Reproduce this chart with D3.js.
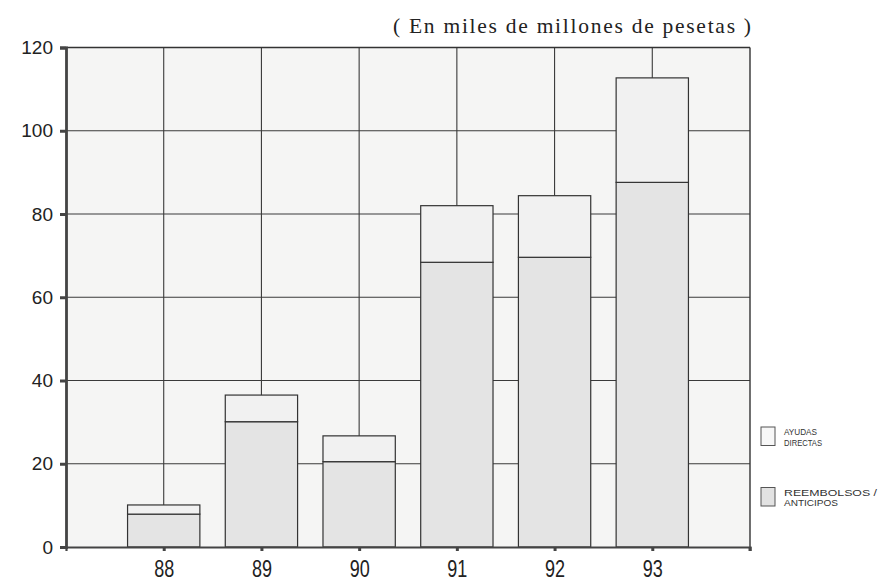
<!DOCTYPE html>
<html>
<head>
<meta charset="utf-8">
<script src="https://cdn.jsdelivr.net/npm/d3@7"></script>
<style>
  html, body { margin: 0; padding: 0; background: #ffffff; }
  svg { display: block; }
</style>
</head>
<body>
<svg id="chart" width="881" height="580"></svg>
<script>
// ---- data ----
const years = ["88", "89", "90", "91", "92", "93"];
const reembolsos = [7.9, 30.1, 20.5, 68.4, 69.6, 87.6];   // REEMBOLSOS / ANTICIPOS (bottom)
const ayudas = [2.2, 6.4, 6.2, 13.6, 14.8, 25.1];         // AYUDAS DIRECTAS (top)
const yTicks = [0, 20, 40, 60, 80, 100, 120];
const seriesKeys = ["reembolsos", "ayudas"];
const legendLabels = [["AYUDAS", "DIRECTAS"], ["REEMBOLSOS /", "ANTICIPOS"]];
const unitsTitle = "( En miles de millones de pesetas )";

(function () {
// ---- layout ----
const pLeft = 66, pRight = 750, pTop = 47.5, pBottom = 547;
const svg = d3.select("#chart");

const x = d3.scalePoint().domain(years).range([pLeft, pRight]).padding(1);
const y = d3.scaleLinear().domain([0, 120]).range([pBottom, pTop]);
const barW = x.step() * 0.74;

const rows = years.map((yr, i) => ({ year: yr, reembolsos: reembolsos[i], ayudas: ayudas[i] }));
const stacked = d3.stack().keys(seriesKeys)(rows);
const fills = { reembolsos: "#e4e4e4", ayudas: "#f1f1f1" };

// plot background
svg.append("rect")
  .attr("x", pLeft).attr("y", pTop)
  .attr("width", pRight - pLeft).attr("height", pBottom - pTop)
  .attr("fill", "#f5f5f4");

// grid
const grid = svg.append("g").attr("stroke", "#3a3a3a").attr("stroke-width", 1.1);
grid.selectAll("line.h").data(yTicks.filter(t => t > 0 && t < 120)).join("line")
  .attr("class", "h")
  .attr("x1", pLeft).attr("x2", pRight)
  .attr("y1", d => y(d)).attr("y2", d => y(d));
grid.selectAll("line.v").data(years).join("line")
  .attr("class", "v")
  .attr("x1", d => x(d)).attr("x2", d => x(d))
  .attr("y1", pTop).attr("y2", pBottom);

// bars
svg.append("g").selectAll("g").data(stacked).join("g")
  .attr("fill", d => fills[d.key])
  .selectAll("rect").data(d => d).join("rect")
  .attr("x", d => x(d.data.year) - barW / 2)
  .attr("width", barW)
  .attr("y", d => y(d[1]))
  .attr("height", d => y(d[0]) - y(d[1]))
  .attr("stroke", "#333")
  .attr("stroke-width", 1.2);

// frame: top & right borders
svg.append("line").attr("x1", pLeft).attr("x2", pRight).attr("y1", pTop).attr("y2", pTop)
  .attr("stroke", "#333").attr("stroke-width", 1.6);
svg.append("line").attr("x1", pRight).attr("x2", pRight).attr("y1", pTop).attr("y2", pBottom)
  .attr("stroke", "#333").attr("stroke-width", 1.4);

// y axis
const yAxis = svg.append("g").attr("transform", `translate(${pLeft},0)`)
  .call(d3.axisLeft(y).tickValues(yTicks).tickSize(6).tickPadding(7));
yAxis.select(".domain").attr("stroke", "#444").attr("stroke-width", 2.8);
yAxis.selectAll(".tick line").attr("stroke", "#444").attr("stroke-width", 3);
yAxis.selectAll(".tick text")
  .attr("font-family", "'Liberation Sans', Arial, sans-serif")
  .attr("font-size", 19).attr("fill", "#222");

// x axis
const xAxis = svg.append("g").attr("transform", `translate(0,${pBottom})`)
  .call(d3.axisBottom(x).tickSize(4).tickSizeOuter(4).tickPadding(0));
xAxis.select(".domain").attr("stroke", "#444").attr("stroke-width", 2.2);
xAxis.selectAll(".tick line").attr("stroke", "#444").attr("stroke-width", 3);
xAxis.selectAll(".tick text")
  .attr("font-family", "'Liberation Sans', Arial, sans-serif")
  .attr("font-size", 18).attr("fill", "#222")
  .attr("dy", null)
  .attr("y", 0)
  .attr("transform", "translate(0,30) scale(1,1.28)");
// end tick at right edge
svg.append("line").attr("x1", pRight).attr("x2", pRight).attr("y1", pBottom).attr("y2", pBottom + 4)
  .attr("stroke", "#444").attr("stroke-width", 3);

// units title
svg.append("text")
  .attr("x", 393).attr("y", 33)
  .attr("font-family", "'Liberation Serif', 'Times New Roman', serif")
  .attr("font-size", 21.5).attr("fill", "#222")
  .attr("textLength", 358).attr("lengthAdjust", "spacing")
  .text(unitsTitle);

// legend
const legendKeys = ["ayudas", "reembolsos"];
const legendY = [427, 487.5];
const legendW = [[33, 38], [93, 54]];
const lg = svg.append("g");
legendKeys.forEach((k, i) => {
  lg.append("rect")
    .attr("x", 761).attr("y", legendY[i])
    .attr("width", 14).attr("height", 18.5)
    .attr("fill", k === "ayudas" ? "#f7f7f7" : "#e2e2e2")
    .attr("stroke", "#555").attr("stroke-width", 1);
  legendLabels[i].forEach((line, j) => {
    lg.append("text")
      .attr("x", 784).attr("y", legendY[i] + 8 + j * 10.8)
      .attr("font-family", "'Liberation Sans Narrow', 'Liberation Sans', Arial, sans-serif")
      .attr("font-size", 9.5).attr("fill", "#333")
      .attr("textLength", legendW[i][j]).attr("lengthAdjust", "spacingAndGlyphs")
      .text(line);
  });
});
})();
</script>
</body>
</html>
